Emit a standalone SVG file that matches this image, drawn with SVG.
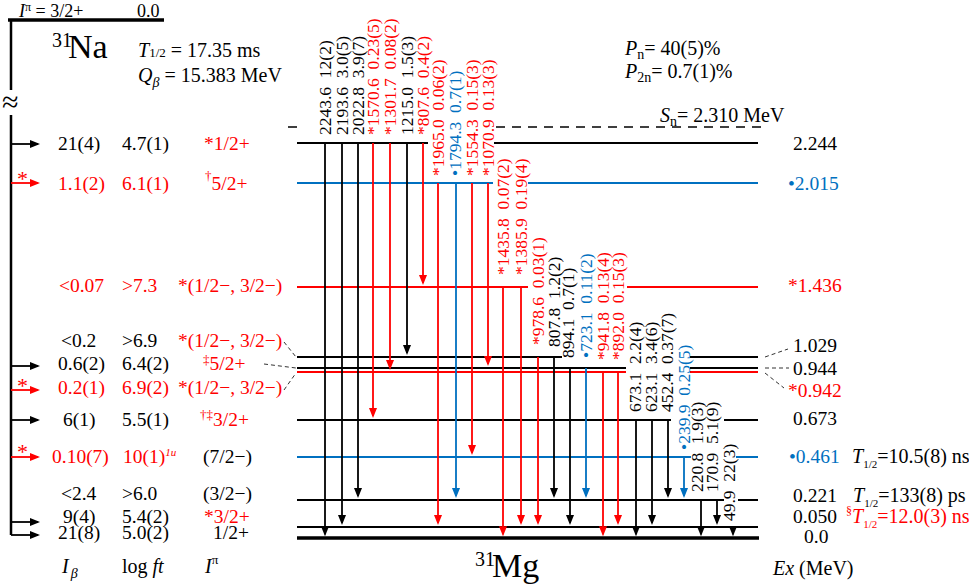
<svg xmlns="http://www.w3.org/2000/svg" width="969" height="587" viewBox="0 0 969 587">
<style>
text{font-family:"Liberation Serif","Times New Roman",serif;font-size:19.5px;fill:#000}
.r{fill:#ff0000}
.b{fill:#0070c0}
.i{font-style:italic}
.h{font-size:20px}
.lab{font-size:17.5px;white-space:pre}
.lv{stroke-width:2;fill:none}
.k{stroke:#000}
.rs{stroke:#ff0000}
.bs{stroke:#0070c0}
.tr{stroke-width:1.8;fill:none}
.dsh{stroke:#333;stroke-width:1;stroke-dasharray:4 3;fill:none}
.sn{stroke:#000;stroke-width:1.5;stroke-dasharray:9 7;fill:none}
</style>
<defs>
<marker id="ak" viewBox="0 0 10 8" markerWidth="10" markerHeight="8" refX="8" refY="4" orient="auto" markerUnits="userSpaceOnUse"><path d="M0,0L10,4L0,8Z" fill="#000"/></marker>
<marker id="ar" viewBox="0 0 10 8" markerWidth="10" markerHeight="8" refX="8" refY="4" orient="auto" markerUnits="userSpaceOnUse"><path d="M0,0L10,4L0,8Z" fill="#ff0000"/></marker>
<marker id="ab" viewBox="0 0 10 8" markerWidth="10" markerHeight="8" refX="8" refY="4" orient="auto" markerUnits="userSpaceOnUse"><path d="M0,0L10,4L0,8Z" fill="#0070c0"/></marker>
</defs>

<!-- parent 31Na -->
<g id="parent">
<text x="19" y="17" style="font-size:18px"><tspan class="i">I</tspan><tspan style="font-size:12px" dy="-6">π</tspan><tspan dy="6"> = 3/2+</tspan></text>
<text x="137" y="17" style="font-size:18px">0.0</text>
<path d="M8,20H164" stroke="#000" stroke-width="3.5"/>
<path d="M11,20V90M11,115V535" stroke="#000" stroke-width="2.5" fill="none"/>
<text x="2" y="112" style="font-size:30px">≈</text>
<text x="52" y="47" style="font-size:20px">31</text>
<text x="68" y="58" style="font-size:34px">Na</text>
<text class="h" x="138" y="57"><tspan class="i">T</tspan><tspan style="font-size:13px">1/2</tspan> = 17.35 ms</text>
<text class="h" x="138" y="82"><tspan class="i">Q</tspan><tspan class="i" style="font-size:14px" dy="5">β</tspan><tspan dy="-5"> = 15.383 MeV</tspan></text>
</g>

<!-- beta feeding arrows -->
<g id="feeding">
<path class="tr k" d="M11,144H38" marker-end="url(#ak)" stroke-width="2"/>
<path class="tr rs" d="M11,183H38" marker-end="url(#ar)" stroke-width="2"/>
<path class="tr k" d="M11,366H38" marker-end="url(#ak)" stroke-width="2"/>
<path class="tr rs" d="M11,390H38" marker-end="url(#ar)" stroke-width="2"/>
<path class="tr k" d="M11,420H38" marker-end="url(#ak)" stroke-width="2"/>
<path class="tr rs" d="M11,457H38" marker-end="url(#ar)" stroke-width="2"/>
<path class="tr k" d="M11,522H38" marker-end="url(#ak)" stroke-width="2"/>
<path class="tr k" d="M11,535H38" marker-end="url(#ak)" stroke-width="2"/>
<text class="r" x="17" y="186" style="font-size:22px">*</text>
<text class="r" x="17" y="393" style="font-size:22px">*</text>
<text class="r" x="17" y="459" style="font-size:22px">*</text>
</g>

<!-- left table -->
<g id="table">
<text x="58" y="150">21(4)</text><text x="122" y="150">4.7(1)</text><text class="r" x="204" y="150">*1/2+</text>
<text class="r" x="58" y="190">1.1(2)</text><text class="r" x="122" y="190">6.1(1)</text><text class="r" x="205" y="190"><tspan style="font-size:13px" dy="-10">†</tspan><tspan dy="10">5/2+</tspan></text>
<text class="r" x="59" y="292">&lt;0.07</text><text class="r" x="122" y="292">&gt;7.3</text><text class="r" x="178" y="292">*(1/2−, 3/2−)</text>
<text x="61" y="347">&lt;0.2</text><text x="122" y="347">&gt;6.9</text><text class="r" x="178" y="347">*(1/2−, 3/2−)</text>
<text x="58" y="370">0.6(2)</text><text x="122" y="370">6.4(2)</text><text class="r" x="203" y="370"><tspan style="font-size:13px" dy="-6">‡</tspan><tspan dy="6">5/2+</tspan></text>
<text class="r" x="58" y="394">0.2(1)</text><text class="r" x="122" y="394">6.9(2)</text><text class="r" x="178" y="394">*(1/2−, 3/2−)</text>
<text x="63" y="426">6(1)</text><text x="122" y="426">5.5(1)</text><text class="r" x="200" y="426"><tspan style="font-size:13px" dy="-7">†‡</tspan><tspan dy="7">3/2+</tspan></text>
<text class="r" x="52" y="463">0.10(7)</text><text class="r" x="123" y="463">10(1)<tspan class="i" style="font-size:11px" dy="-7">1u</tspan></text><text x="203" y="463">(7/2−)</text>
<text x="61" y="500">&lt;2.4</text><text x="122" y="500">&gt;6.0</text><text x="203" y="500">(3/2−)</text>
<text x="63" y="523">9(4)</text><text x="122" y="523">5.4(2)</text><text class="r" x="204" y="523">*3/2+</text>
<text x="58" y="539">21(8)</text><text x="122" y="539">5.0(2)</text><text x="213" y="539">1/2+</text>
<text class="h" x="62" y="573"><tspan class="i">I</tspan><tspan class="i" style="font-size:14px" dx="2" dy="5">β</tspan></text>
<text class="h" x="122" y="573">log <tspan class="i">ft</tspan></text>
<text class="h" x="205" y="573"><tspan class="i">I</tspan><tspan style="font-size:13px" dy="-9">π</tspan></text>
</g>

<!-- daughter levels 31Mg -->
<g id="levels">
<path class="sn" d="M288,127H301M496,127H763"/>
<path class="lv k" d="M297,143H428M494,143H758"/>
<path class="lv bs" d="M297,183H493M528,183H758"/>
<path class="lv rs" d="M297,287H528M627,287H758"/>
<path class="lv k" d="M297,357H562M690,357H758"/>
<path class="lv k" d="M297,368H626M690,368H758"/>
<path class="lv rs" d="M297,372H626M690,372H758"/>
<path class="lv k" d="M297,420H671M724,420H758"/>
<path class="lv bs" d="M297,457H691M736,457H758"/>
<path class="lv k" d="M297,500H724M738,500H758"/>
<path class="lv k" d="M297,527H758"/>
<path d="M297,538H759" stroke="#000" stroke-width="3.5"/>
<path class="dsh" d="M284,342L296,357M264,364L296,368M284,390L296,373"/>
<path class="dsh" d="M765,357L788,349M765,368L789,368M765,373L784,388"/>
</g>

<g id="level-labels">
<text class="h" x="625" y="55"><tspan class="i">P</tspan><tspan style="font-size:14px" dy="4">n</tspan><tspan dy="-4">= 40(5)%</tspan></text>
<text class="h" x="625" y="78"><tspan class="i">P</tspan><tspan style="font-size:14px" dy="4">2n</tspan><tspan dy="-4">= 0.7(1)%</tspan></text>
<text class="h" x="660" y="122"><tspan class="i">S</tspan><tspan style="font-size:14px" dy="4">n</tspan><tspan dy="-4">= 2.310 MeV</tspan></text>
<text x="793" y="150">2.244</text>
<text class="b" x="788" y="190">•2.015</text>
<text class="r" x="788" y="292">*1.436</text>
<text x="793" y="352">1.029</text>
<text x="793" y="375">0.944</text>
<text class="r" x="788" y="397">*0.942</text>
<text x="793" y="425">0.673</text>
<text class="b" x="789" y="463">•0.461</text>
<text class="h" x="852" y="463"><tspan class="i">T</tspan><tspan style="font-size:11px" dy="5">1/2</tspan><tspan dy="-5">=10.5(8) ns</tspan></text>
<text x="793" y="502">0.221</text>
<text class="h" x="853" y="502"><tspan class="i">T</tspan><tspan style="font-size:11px" dy="5">1/2</tspan><tspan dy="-5">=133(8) ps</tspan></text>
<text x="793" y="523">0.050</text>
<text class="h r" x="846" y="523"><tspan style="font-size:12px" dy="-8">§</tspan><tspan class="i" dy="8">T</tspan><tspan style="font-size:11px" dy="5">1/2</tspan><tspan dy="-5">=12.0(3) ns</tspan></text>
<text x="804" y="543">0.0</text>
<text class="h" x="773" y="575"><tspan class="i">Ex</tspan> (MeV)</text>
<text x="475" y="566" style="font-size:20px">31</text>
<text x="492" y="577" style="font-size:34px">Mg</text>
</g>

<!-- gamma transitions -->
<g id="connectors">
<path class="tr k" d="M325,143V534.3" marker-end="url(#ak)"/>
<path class="tr k" d="M342,143V523" marker-end="url(#ak)"/>
<path class="tr k" d="M358,143V496" marker-end="url(#ak)"/>
<path class="tr rs" d="M373,143V416" marker-end="url(#ar)"/>
<path class="tr rs" d="M390,143V368" marker-end="url(#ar)"/>
<path class="tr k" d="M407,143V353" marker-end="url(#ak)"/>
<path class="tr rs" d="M423,143V283" marker-end="url(#ar)"/>
<path class="tr rs" d="M438,183V523" marker-end="url(#ar)"/>
<path class="tr bs" d="M456,183V496" marker-end="url(#ab)"/>
<path class="tr rs" d="M472,183V453" marker-end="url(#ar)"/>
<path class="tr rs" d="M488,183V364" marker-end="url(#ar)"/>
<path class="tr rs" d="M503,287V534.3" marker-end="url(#ar)"/>
<path class="tr rs" d="M521,287V523" marker-end="url(#ar)"/>
<path class="tr rs" d="M538,357V523" marker-end="url(#ar)"/>
<path class="tr k" d="M554,357V496" marker-end="url(#ak)"/>
<path class="tr k" d="M570,368V523" marker-end="url(#ak)"/>
<path class="tr bs" d="M586,368V496" marker-end="url(#ab)"/>
<path class="tr rs" d="M603,372V534.3" marker-end="url(#ar)"/>
<path class="tr rs" d="M618,372V523" marker-end="url(#ar)"/>
<path class="tr k" d="M636,420V534.3" marker-end="url(#ak)"/>
<path class="tr k" d="M652,420V523" marker-end="url(#ak)"/>
<path class="tr k" d="M668,420V496" marker-end="url(#ak)"/>
<path class="tr bs" d="M684,457V496" marker-end="url(#ab)"/>
<path class="tr k" d="M701,500V534.3" marker-end="url(#ak)"/>
<path class="tr k" d="M717,500V523" marker-end="url(#ak)"/>
<path class="tr k" d="M733,527V534.3" marker-end="url(#ak)"/>
</g>

<g id="gamma-labels">
<text class="lab" transform="translate(331,135) rotate(-90)">2243.6  12(2)</text>
<text class="lab" transform="translate(347.5,135) rotate(-90)">2193.6  3.0(5)</text>
<text class="lab" transform="translate(363.5,135) rotate(-90)">2022.8  3.9(7)</text>
<text class="lab r" transform="translate(378.5,135) rotate(-90)">*1570.6  0.23(5)</text>
<text class="lab r" transform="translate(395.5,135) rotate(-90)">*1301.7  0.08(2)</text>
<text class="lab" transform="translate(412.5,135) rotate(-90)">1215.0  1.5(3)</text>
<text class="lab r" transform="translate(428.5,135) rotate(-90)">*807.6  0.4(2)</text>
<text class="lab r" transform="translate(443.5,176) rotate(-90)">*1965.0  0.06(2)</text>
<text class="lab b" transform="translate(461,176) rotate(-90)">•1794.3  0.7(1)</text>
<text class="lab r" transform="translate(477.5,176) rotate(-90)">*1554.3  0.15(3)</text>
<text class="lab r" transform="translate(493.5,176) rotate(-90)">*1070.9  0.13(3)</text>
<text class="lab r" transform="translate(508.5,275) rotate(-90)">*1435.8  0.07(2)</text>
<text class="lab r" transform="translate(526.5,275) rotate(-90)">*1385.9  0.19(4)</text>
<text class="lab r" transform="translate(543.5,345) rotate(-90)">*978.6  0.03(1)</text>
<text class="lab" transform="translate(559.5,347) rotate(-90)">807.8  1.2(2)</text>
<text class="lab" transform="translate(573.5,358) rotate(-90)">894.1  0.7(1)</text>
<text class="lab b" transform="translate(591.5,358) rotate(-90)">•723.1  0.11(2)</text>
<text class="lab r" transform="translate(608.5,360) rotate(-90)">*941.8  0.13(4)</text>
<text class="lab r" transform="translate(624,360) rotate(-90)">*892.0  0.15(3)</text>
<text class="lab" transform="translate(640.5,412) rotate(-90)">673.1  2.2(4)</text>
<text class="lab" transform="translate(656.5,412) rotate(-90)">623.1  3.4(6)</text>
<text class="lab" transform="translate(673,412) rotate(-90)">452.4  0.37(7)</text>
<text class="lab b" transform="translate(689.5,450) rotate(-90)">•239.9  0.25(5)</text>
<text class="lab" transform="translate(702.5,492) rotate(-90)">220.8  1.9(3)</text>
<text class="lab" transform="translate(718,492) rotate(-90)">170.9  5.1(9)</text>
<text class="lab" transform="translate(734.5,521) rotate(-90)">49.9  22(3)</text>
</g>
</svg>
